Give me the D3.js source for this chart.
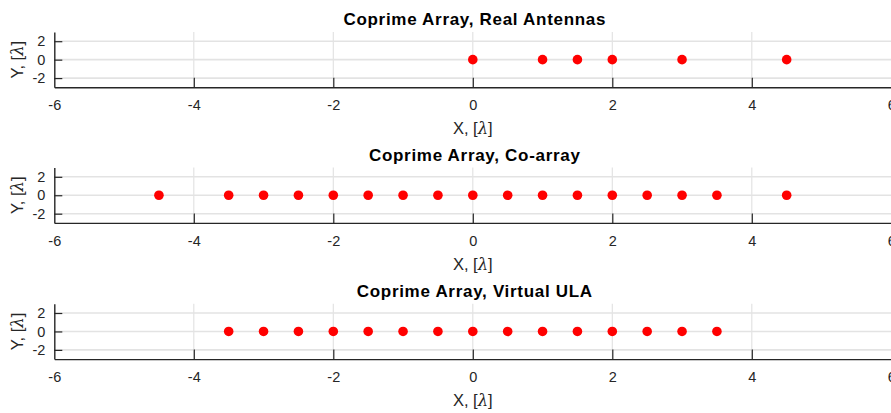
<!DOCTYPE html>
<html><head><meta charset="utf-8">
<script src="https://cdn.jsdelivr.net/npm/d3@7"></script>
<style>body{margin:0;background:#fff;}svg{display:block;font-family:"Liberation Sans",Arial,sans-serif;}</style>
</head><body>
<svg id="c" width="891" height="413"></svg>
<script>
const titles = ["Coprime Array, Real Antennas", "Coprime Array, Co-array", "Coprime Array, Virtual ULA"];
const realX = [0, 1, 1.5, 2, 3, 4.5];
const coarrayX = [-4.5, -3.5, -3, -2.5, -2, -1.5, -1, -0.5, 0, 0.5, 1, 1.5, 2, 2.5, 3, 3.5, 4.5];
const ulaX = [-3.5, -3, -2.5, -2, -1.5, -1, -0.5, 0, 0.5, 1, 1.5, 2, 2.5, 3, 3.5];
const xTicks = [-6, -4, -2, 0, 2, 4, 6];
const yTicks = [-2, 0, 2];
const seriesX = [realX, coarrayX, ulaX];

const svg = d3.select("#c");
const left = 54.3, right = 891.3;
const tops = [32, 167.6, 303.8];
const ph = 55.3;
const ink = "#262626";
const x = d3.scaleLinear().domain([-6, 6]).range([left, right]);
const fmt = d => String(d);

seriesX.forEach((xs, i) => {
  const top = tops[i];
  const y = d3.scaleLinear().domain([-3, 3]).range([top + ph, top]);
  const g = svg.append("g");
  // grid
  g.selectAll(".gx").data(xTicks.filter(t => t > -6 && t < 6)).join("line")
    .attr("x1", d => x(d)).attr("x2", d => x(d)).attr("y1", top).attr("y2", top + ph)
    .attr("stroke", "#e3e3e3").attr("stroke-width", 1.2);
  g.selectAll(".gy").data(yTicks).join("line")
    .attr("x1", left).attr("x2", right).attr("y1", d => y(d)).attr("y2", d => y(d))
    .attr("stroke", "#e3e3e3").attr("stroke-width", 1.6);
  // axes
  const xa = g.append("g").attr("transform", `translate(0,${top + ph})`)
    .call(d3.axisBottom(x).tickValues(xTicks).tickSizeInner(-9.5).tickSizeOuter(0).tickPadding(12.7).tickFormat(fmt));
  const ya = g.append("g").attr("transform", `translate(${left},0)`)
    .call(d3.axisLeft(y).tickValues(yTicks).tickSizeInner(-8).tickSizeOuter(0).tickPadding(9).tickFormat(fmt));
  [xa, ya].forEach(a => {
    a.select(".domain").attr("stroke", ink).attr("stroke-width", 1.4);
    a.selectAll(".tick line").attr("stroke", ink).attr("stroke-width", 1.2);
    a.selectAll(".tick text").attr("fill", ink).style("font-size", "14.5px").style("font-family", '"Liberation Sans",Arial,sans-serif');
  });
  xa.select(".tick:first-of-type line").remove();
  // points
  g.selectAll("circle").data(xs).join("circle")
    .attr("cx", d => x(d)).attr("cy", y(0)).attr("r", 4.8).attr("fill", "#ff0000");
  // title
  g.append("text").attr("x", (left + right) / 2 + 2).attr("y", top - 7).attr("text-anchor", "middle")
    .attr("fill", "#000").style("font-size", "17px").style("letter-spacing", "0.7px").style("font-weight", "bold").text(titles[i]);
  // x label
  const xl = g.append("text").attr("x", (left + right) / 2).attr("y", top + ph + 47).attr("text-anchor", "middle")
    .attr("fill", ink).style("font-size", "16.5px");
  xl.append("tspan").text("X, [");
  xl.append("tspan").style("font-family", '"DejaVu Serif","Liberation Serif",serif').style("font-style", "italic").text("λ");
  xl.append("tspan").text("]");
  // y label
  const yl = g.append("text").attr("transform", `translate(23,${y(0)}) rotate(-90)`).attr("text-anchor", "middle")
    .attr("fill", ink).style("font-size", "16.5px");
  yl.append("tspan").text("Y, [");
  yl.append("tspan").style("font-family", '"DejaVu Serif","Liberation Serif",serif').style("font-style", "italic").text("λ");
  yl.append("tspan").text("]");
});
</script>
</body></html>
